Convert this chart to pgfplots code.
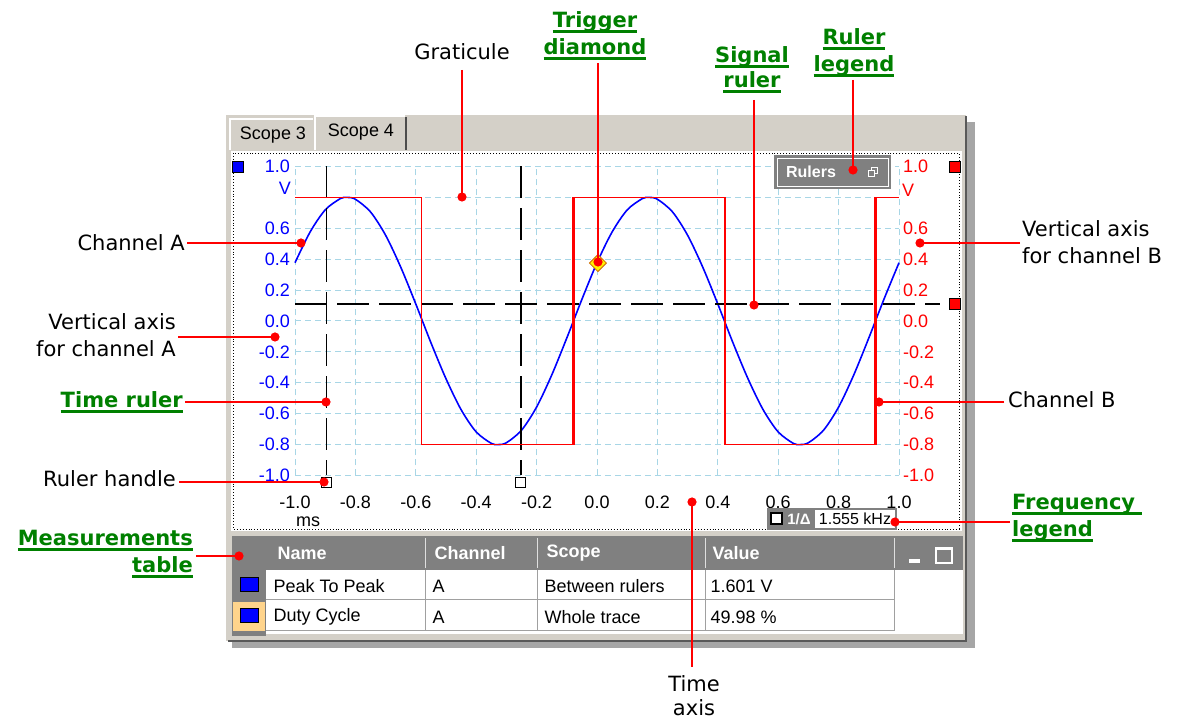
\documentclass[border=0pt]{standalone}
\usepackage{fontspec}
\setmainfont{DejaVu Sans}
\newfontfamily\uifont{Liberation Sans}
\usepackage{pgfplots}
\pgfplotsset{compat=1.18}

\definecolor{winbg}{RGB}{212,208,200}
\definecolor{hdrgray}{RGB}{128,128,128}
\definecolor{grat}{RGB}{168,214,230}
\definecolor{annored}{RGB}{255,0,0}
\definecolor{annogreen}{RGB}{0,128,0}
\definecolor{chA}{RGB}{0,0,255}
\definecolor{chB}{RGB}{255,0,0}
\definecolor{rowhl}{RGB}{255,212,140}
\definecolor{cellgray}{RGB}{160,160,160}

\newcommand\uiF{\uifont\fontsize{18}{21}\selectfont}
\newcommand\uiB{\uifont\bfseries\fontsize{18}{21}\selectfont}
\newcommand\annoF{\fontsize{21}{27}\selectfont}
\newcommand\greenF{\bfseries\fontsize{21}{27}\selectfont}
% underline below the baseline, in the current colour
\newcommand\ul[1]{\setbox0\hbox{#1}\rlap{\vrule width\wd0 height -2.5pt depth 4.8pt}\box0}
% red call-out line with a dot at its end
\newcommand\callout[4]{\draw[annored, line width=2.8pt] (#1,#2) -- (#3,#4);
  \fill[annored] (#3,#4) circle (4.6pt);}

\begin{document}
\begin{tikzpicture}
% ---------- window (screen pixels, y down) ----------
\begin{scope}[yshift=722pt, yscale=-1, x=1pt, y=1pt]
  \fill[white] (0,0) rectangle (1177,722);
  \fill[black!35] (232,122) rectangle (975,648);
  \fill[winbg] (226,115) rectangle (966,641);
  \draw[black!65, line width=2pt] (966,116) -- (966,641) -- (228,641);
  % tabs
  \draw[white, line width=1.5pt] (230,150) -- (230,119) -- (313,119);
  \node[font=\uiF] at (273,135) {Scope 3};
  \draw[white, line width=1.5pt] (315,150) -- (315,116) -- (405,116);
  \draw[black!70, line width=2pt] (406,117) -- (406,150);
  \node[font=\uiF] at (361,132) {Scope 4};
  % scope panel
  \fill[white] (231,151) rectangle (962,531);
  \draw[dotted, line width=0.9pt] (233,153) rectangle (959,529);
\end{scope}

% ---------- channel A (left axis) ----------
\begin{axis}[
  at={(295pt,246.5pt)}, anchor=south west,
  scale only axis, width=604pt, height=309pt,
  xmin=-1, xmax=1, ymin=-1, ymax=1,
  axis line style={draw=none},
  major tick length=0pt,
  xtick={-1,-0.8,-0.6,-0.4,-0.2,0,0.2,0.4,0.6,0.8,1},
  xticklabels={-1.0,-0.8,-0.6,-0.4,-0.2,0.0,0.2,0.4,0.6,0.8,1.0},
  ytick={-1,-0.8,-0.6,-0.4,-0.2,0,0.2,0.4,0.6,0.8,1},
  yticklabels={-1.0,-0.8,-0.6,-0.4,-0.2,0.0,0.2,0.4,0.6,{},1.0},
  grid=major,
  major grid style={grat, dash pattern=on 6pt off 4pt, line width=1pt},
  tick label style={font=\uiF, inner sep=0pt},
  xticklabel style={yshift=-20pt},
  yticklabel style={text=chA, xshift=-5pt},
  clip=false,
]
% channel A, sine
\addplot[chA, line width=1.6pt, smooth] coordinates {
  (-1.00,0.377) (-0.95,0.576) (-0.90,0.719) (-0.85,0.792) (-0.828,0.800)
  (-0.80,0.788) (-0.75,0.706) (-0.70,0.555) (-0.65,0.349) (-0.60,0.110)
  (-0.55,-0.140) (-0.50,-0.374) (-0.45,-0.574) (-0.40,-0.718) (-0.35,-0.792)
  (-0.328,-0.800) (-0.30,-0.788) (-0.25,-0.707) (-0.20,-0.557) (-0.15,-0.350)
  (-0.10,-0.110) (-0.05,0.140) (0.00,0.377) (0.05,0.576) (0.10,0.719)
  (0.15,0.792) (0.172,0.800) (0.20,0.788) (0.25,0.706) (0.30,0.555)
  (0.35,0.349) (0.40,0.110) (0.45,-0.140) (0.50,-0.374) (0.55,-0.574)
  (0.60,-0.718) (0.65,-0.792) (0.672,-0.800) (0.70,-0.788) (0.75,-0.707)
  (0.80,-0.557) (0.85,-0.350) (0.90,-0.110) (0.95,0.140) (1.00,0.377)};
% time rulers and signal ruler
\addplot[black, line width=1.5pt, dash pattern=on 32pt off 10pt] coordinates {(-0.895,1) (-0.895,-1)};
\addplot[black, line width=1.5pt, dash pattern=on 32pt off 10pt] coordinates {(-0.252,1) (-0.252,-1)};
\addplot[black, line width=1.5pt, dash pattern=on 32pt off 10pt] coordinates {(-1,0.11) (1.136,0.11)};
\end{axis}

% ---------- channel B (right axis) ----------
\begin{axis}[
  at={(295pt,246.5pt)}, anchor=south west,
  scale only axis, width=604pt, height=309pt,
  xmin=-1, xmax=1, ymin=-1, ymax=1,
  axis line style={draw=none},
  major tick length=0pt,
  xtick=\empty,
  ytick={-1,-0.8,-0.6,-0.4,-0.2,0,0.2,0.4,0.6,0.8,1},
  yticklabels={-1.0,-0.8,-0.6,-0.4,-0.2,0.0,0.2,0.4,0.6,{},1.0},
  yticklabel pos=right,
  tick label style={font=\uiF, inner sep=0pt},
  yticklabel style={text=chB, xshift=4pt},
  clip=false,
]
% channel B, square wave
\addplot[chB, line width=1.6pt] coordinates {
  (-1,0.8) (-0.581,0.8) (-0.581,-0.8) (-0.079,-0.8) (-0.079,0.8)
  (0.423,0.8) (0.423,-0.8) (0.921,-0.8) (0.921,0.8) (1,0.8)};
\addplot[chB, line width=2.8pt] coordinates {(-0.079,-0.8) (-0.079,0.8)};
\addplot[chB, line width=2.8pt] coordinates {(0.921,-0.8) (0.921,0.8)};
% ruler handles
\addplot[only marks, mark=square*, mark size=5pt,
  mark options={fill=white, draw=black, line width=0.9pt}] coordinates {(-0.895,-1.042) (-0.252,-1.042)};
\addplot[only marks, mark=square*, mark size=5.5pt,
  mark options={fill=chA, draw=black, line width=0.9pt}] coordinates {(-1.189,1)};
\addplot[only marks, mark=square*, mark size=5.5pt,
  mark options={fill=chB, draw=black, line width=0.9pt}] coordinates {(1.185,1) (1.185,0.11)};
% trigger diamond
\addplot[only marks, mark=square*, mark size=6pt,
  mark options={rotate=45, fill=yellow, draw=orange!80!black, line width=0.8pt}] coordinates {(0.003,0.375)};
\end{axis}

% ---------- overlays (screen pixels, y down) ----------
\begin{scope}[yshift=722pt, yscale=-1, x=1pt, y=1pt]
  % units
  \node[anchor=east, inner sep=0pt, text=chA, font=\uiF] at (291,188) {V};
  \node[anchor=west, inner sep=0pt, text=chB, font=\uiF] at (902,190) {V};
  \node[font=\uiF, inner sep=0pt] at (308,522) {ms};
  % rulers legend
  \fill[hdrgray] (774,155) rectangle (891,189);
  \draw[white, line width=0.8pt] (777,158) rectangle (888,186);
  \node[text=white, font=\uifont\bfseries\fontsize{16}{18}\selectfont] at (811,172) {Rulers};
  \draw[white, line width=0.8pt] (868,170) rectangle (874,176);
  \draw[white, line width=0.8pt] (871,170) -- (871,167) -- (877,167) -- (877,173) -- (874,173);
  % frequency legend
  \fill[hdrgray] (767,508) rectangle (897,530);
  \fill[white] (815,510) rectangle (895,528);
  \filldraw[fill=white, draw=black, line width=1.2pt] (771,513) rectangle (782,524);
  \node[text=white, font=\uifont\bfseries\fontsize{15}{17}\selectfont, inner sep=0pt] at (799,519) {1/Δ};
  \node[font=\uifont\fontsize{16}{18}\selectfont, inner sep=0pt] at (855,519) {1.555 kHz};
  % measurements table
  \fill[hdrgray] (232,536) rectangle (963,570);
  \foreach \c in {425,537,705,894} \draw[white!75!gray, line width=1pt] (\c,538) -- (\c,568);
  \node[anchor=west, text=white, font=\uiB] at (274,553) {Name};
  \node[anchor=west, text=white, font=\uiB] at (431,553) {Channel};
  \node[anchor=west, text=white, font=\uiB] at (543,553) {Scope};
  \node[anchor=west, text=white, font=\uiB] at (709,553) {Value};
  \fill[white] (909,559) rectangle (920,563);
  \draw[white, line width=1.2pt] (936,548) rectangle (952,563);
  \draw[white, line width=3pt] (936,549) -- (952,549);
  \fill[white] (266,570) rectangle (963,634);
  \fill[hdrgray] (232,570) rectangle (266,636);
  \fill[rowhl] (233,602) rectangle (265,631);
  \draw[cellgray, line width=1pt] (266,600) -- (894,600) (266,631) -- (894,631);
  \foreach \c in {425,537,705,894} \draw[cellgray, line width=1pt] (\c,570) -- (\c,631);
  \filldraw[fill=chA, draw=black, line width=1pt] (240,578) rectangle (258,592);
  \filldraw[fill=chA, draw=black, line width=1pt] (240,609) rectangle (258,623);
  \node[anchor=west, font=\uiF] at (270,586) {Peak To Peak};
  \node[anchor=west, font=\uiF] at (429,586) {A};
  \node[anchor=west, font=\uiF] at (541,586) {Between rulers};
  \node[anchor=west, font=\uiF] at (707,586) {1.601 V};
  \node[anchor=west, font=\uiF] at (270,617) {Duty Cycle};
  \node[anchor=west, font=\uiF] at (429,617) {A};
  \node[anchor=west, font=\uiF] at (541,617) {Whole trace};
  \node[anchor=west, font=\uiF] at (707,617) {49.98 \%};

  % call-outs
  \callout{462}{70}{462}{197}
  \callout{598}{63}{598}{262}
  \callout{754}{100}{754}{305}
  \callout{853}{80}{853}{170}
  \callout{187}{243}{301}{243}
  \callout{178}{337}{275}{337}
  \callout{185}{402}{326}{402}
  \callout{179}{482}{324}{482}
  \callout{196}{556}{239}{556}
  \callout{692}{667}{692}{502}
  \callout{1020}{243}{920}{243}
  \callout{1004}{402}{879}{402}
  \callout{1010}{522}{895}{522}

  % black labels
  \node[anchor=base, font=\annoF, inner sep=0pt] at (462,60) {Graticule};
  \node[anchor=base east, font=\annoF, inner sep=0pt] at (185,251) {Channel A};
  \node[anchor=base east, font=\annoF, inner sep=0pt] at (176,330) {Vertical axis};
  \node[anchor=base east, font=\annoF, inner sep=0pt] at (176,357) {for channel A};
  \node[anchor=base east, font=\annoF, inner sep=0pt] at (176,487) {Ruler handle};
  \node[anchor=base, font=\annoF, inner sep=0pt] at (694,692) {Time};
  \node[anchor=base, font=\annoF, inner sep=0pt] at (694,716) {axis};
  \node[anchor=base west, font=\annoF, inner sep=0pt] at (1022,237) {Vertical axis};
  \node[anchor=base west, font=\annoF, inner sep=0pt] at (1022,264) {for channel B};
  \node[anchor=base west, font=\annoF, inner sep=0pt] at (1008,408) {Channel B};
  % green labels
  \begin{scope}[every node/.style={inner sep=0pt, text=annogreen, font=\greenF}]
    \node[anchor=base] at (595,28) {\ul{Trigger}};
    \node[anchor=base] at (595,55) {\ul{diamond}};
    \node[anchor=base] at (752,63) {\ul{Signal}};
    \node[anchor=base] at (752,88) {\ul{ruler}};
    \node[anchor=base] at (854,45) {\ul{Ruler}};
    \node[anchor=base] at (854,72) {\ul{legend}};
    \node[anchor=base east] at (183,408) {\ul{Time ruler}};
    \node[anchor=base east] at (193,546) {\ul{Measurements}};
    \node[anchor=base east] at (193,573) {\ul{table}};
    \node[anchor=base west] at (1012,510) {\ul{Frequency\ }};
    \node[anchor=base west] at (1012,537) {\ul{legend}};
  \end{scope}
\end{scope}
\pgfresetboundingbox
\path[use as bounding box] (0,0) rectangle (1177pt,722pt);
\end{tikzpicture}
\end{document}
